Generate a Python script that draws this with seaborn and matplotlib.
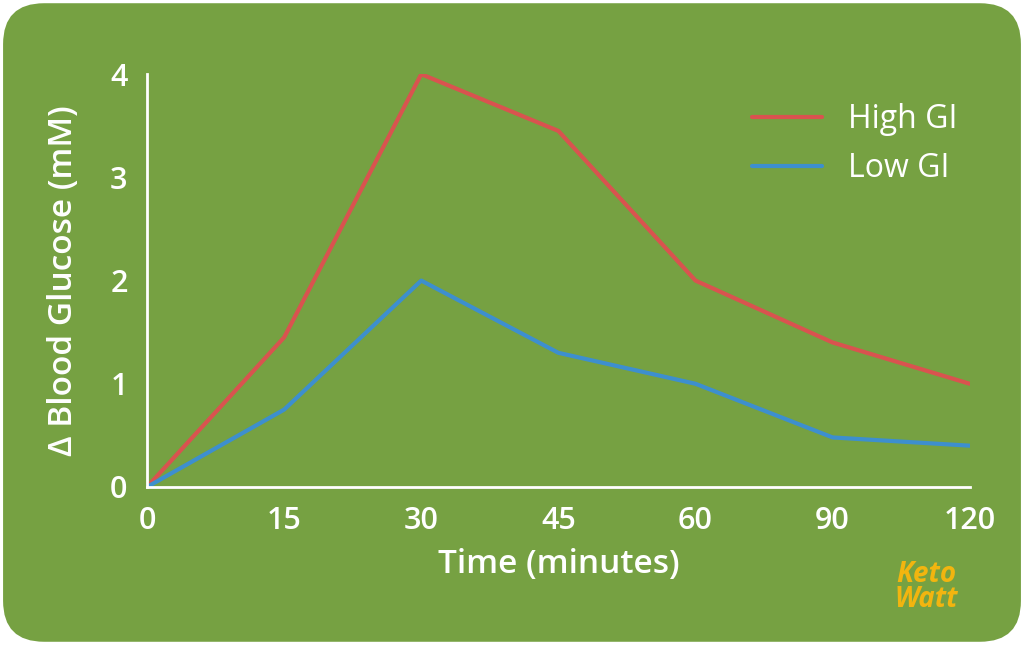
import matplotlib
matplotlib.use("Agg")
import matplotlib.pyplot as plt
import seaborn as sns
import pandas as pd
from matplotlib.patches import FancyBboxPatch

times = ["0", "15", "30", "45", "60", "90", "120"]
high_gi = [0.0, 1.45, 4.0, 3.45, 2.0, 1.4, 1.0]
low_gi = [0.0, 0.75, 2.0, 1.3, 1.0, 0.48, 0.4]

sns.set_style("white")
plt.rcParams['font.family'] = ['Open Sans', 'DejaVu Sans']

green = "#76a142"
df = pd.DataFrame({"pos": list(range(len(times))) * 2,
                   "value": high_gi + low_gi,
                   "series": ["High GI"] * len(times) + ["Low GI"] * len(times)})

fig = plt.figure(figsize=(10.24, 6.45), dpi=100)
fig.patch.set_facecolor("white")
bg = FancyBboxPatch((0.003, 0.005), 0.994, 0.99, boxstyle="round,pad=0,rounding_size=0.04",
                    transform=fig.transFigure, facecolor=green, edgecolor="none",
                    mutation_aspect=1024/645, zorder=-10)
fig.patches.append(bg)

ax = fig.add_axes([0.1436, 0.245, 0.8034, 0.64])
ax.set_facecolor("none")
ax.patch.set_alpha(0)
sns.lineplot(data=df, x="pos", y="value", hue="series",
             palette={"High GI": "#d9534f", "Low GI": "#3d8fce"}, linewidth=3, ax=ax)
ax.set_xlim(0, 6)
ax.set_ylim(0, 4)
ax.set_xticks(range(len(times)))
ax.set_xticklabels(times)
ax.set_yticks([0, 1, 2, 3, 4])
for s in ["top", "right"]:
    ax.spines[s].set_visible(False)
for s in ["left", "bottom"]:
    ax.spines[s].set_color("white")
    ax.spines[s].set_linewidth(2)
    ax.spines[s].set_clip_on(False)
ax.tick_params(colors="white", labelsize=22, length=0, pad=14)
for t in ax.get_xticklabels() + ax.get_yticklabels():
    t.set_fontweight("semibold")
ax.set_xlabel("Time (minutes)", color="white", fontsize=24, fontweight="semibold", labelpad=8)
ax.set_ylabel("Δ Blood Glucose (mM)", color="white", fontsize=24, fontweight="semibold", labelpad=22)
leg = ax.legend(loc="upper right", frameon=False, fontsize=23, handlelength=2.2,
                bbox_to_anchor=(1.02, 1.0))
for t in leg.get_texts():
    t.set_color("white")
fig.text(0.905, 0.09, "Keto\nWatt", color="#f2b50f", fontsize=20, fontweight="bold",
         style="italic", ha="center", va="center", linespacing=0.8)
fig.savefig("out.png", dpi=100)
